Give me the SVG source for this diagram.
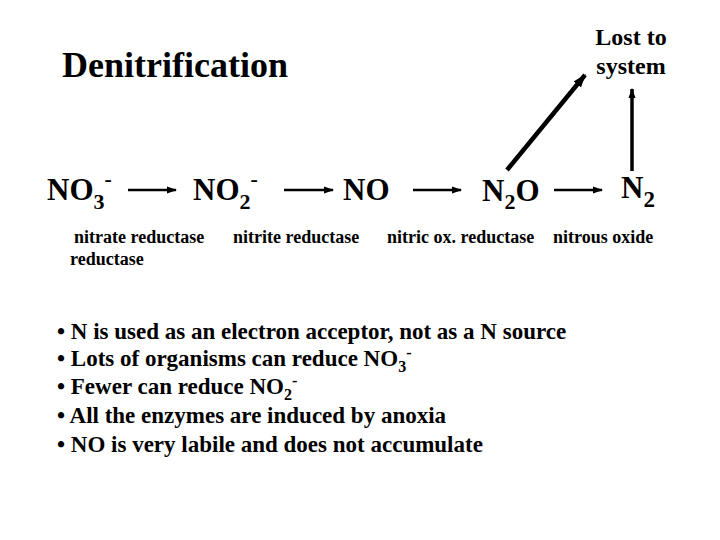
<svg xmlns="http://www.w3.org/2000/svg" width="720" height="540" viewBox="0 0 720 540">
<defs>
<style>
text{font-family:"Liberation Serif","Times New Roman",serif;fill:#000}
.b{font-weight:bold}
.chem{font-size:31px;font-weight:bold}
.enz{font-size:18px;font-weight:bold}
.bul{font-size:23px;font-weight:bold}
.conn line{stroke:#000}
</style>
<marker id="ah" viewBox="0 0 10 10" refX="9" refY="5" markerWidth="4" markerHeight="4" orient="auto" markerUnits="strokeWidth"><path d="M0,1.5 L10,5 L0,8.5 z" fill="#000"/></marker>
<marker id="ah2" viewBox="0 0 10 10" refX="9" refY="5" markerWidth="3" markerHeight="3" orient="auto" markerUnits="strokeWidth"><path d="M0,1.5 L10,5 L0,8.5 z" fill="#000"/></marker>
</defs>
<rect width="720" height="540" fill="#fff"/>
<g id="title"><text x="62" y="77" class="b" font-size="36">Denitrification</text></g>
<g id="lost"><text x="631" y="45" class="b" font-size="24" text-anchor="middle">Lost to</text><text x="631" y="74" class="b" font-size="24" text-anchor="middle">system</text></g>
<g id="no3"><text x="47" y="200" class="chem">NO<tspan font-size="22" dy="9">3</tspan><tspan font-size="22" dy="-23">-</tspan></text></g>
<g id="no2"><text x="193" y="200" class="chem">NO<tspan font-size="22" dy="9">2</tspan><tspan font-size="22" dy="-23">-</tspan></text></g>
<g id="no"><text x="343" y="200" class="chem">NO</text></g>
<g id="n2o"><text x="482" y="201" class="chem">N<tspan font-size="22" dy="8">2</tspan><tspan dy="-8">O</tspan></text></g>
<g id="n2"><text x="621" y="198" class="chem" font-size="33">N<tspan font-size="23" dy="9">2</tspan></text></g>
<g id="enzymes">
<text x="74" y="243" class="enz">nitrate reductase</text>
<text x="70" y="265" class="enz">reductase</text>
<text x="233" y="243" class="enz">nitrite reductase</text>
<text x="387" y="243" class="enz">nitric ox. reductase</text>
<text x="553" y="243" class="enz">nitrous oxide</text>
</g>
<g class="conn" id="connectors">
<line x1="128" y1="190" x2="176" y2="190" stroke-width="2.5" marker-end="url(#ah)"/>
<line x1="284" y1="190" x2="333" y2="190" stroke-width="2.5" marker-end="url(#ah)"/>
<line x1="413" y1="190" x2="461" y2="190" stroke-width="2.5" marker-end="url(#ah)"/>
<line x1="554" y1="190" x2="602" y2="190" stroke-width="2.5" marker-end="url(#ah)"/>
<line x1="507" y1="170" x2="585" y2="75" stroke-width="4.5" marker-end="url(#ah2)"/>
<line x1="632" y1="171" x2="632" y2="89" stroke-width="3.5" marker-end="url(#ah2)"/>
</g>
<g id="bullets" class="bul">
<text x="57" y="339" class="bul">• N is used as an electron acceptor, not as a N source</text>
<text x="57" y="366" class="bul">• Lots of organisms can reduce NO<tspan font-size="16" dy="6">3</tspan><tspan font-size="16" dy="-14">-</tspan></text>
<text x="57" y="394" class="bul">• Fewer can reduce NO<tspan font-size="16" dy="6">2</tspan><tspan font-size="16" dy="-14">-</tspan></text>
<text x="57" y="423" class="bul">• All the enzymes are induced by anoxia</text>
<text x="57" y="452" class="bul">• NO is very labile and does not accumulate</text>
</g>
</svg>
